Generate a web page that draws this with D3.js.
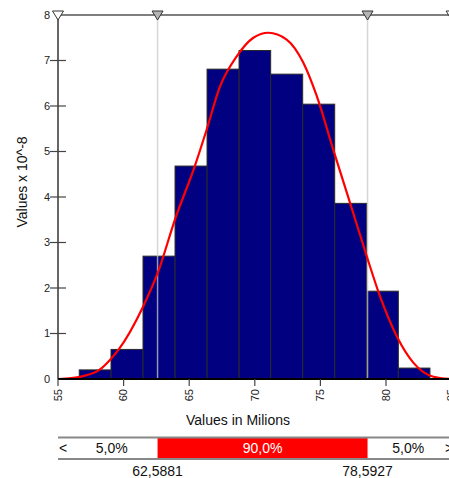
<!DOCTYPE html>
<html>
<head>
<meta charset="utf-8">
<script src="https://cdn.jsdelivr.net/npm/d3@7"></script>
<style>
  html, body { margin: 0; padding: 0; background: #fff; }
  svg { display: block; }
</style>
</head>
<body>
<div id="chart"></div>
<script>
// histogram bins (values in millions) and heights (x 10^-8)
const binEdges = [56.62, 59.04, 61.48, 63.92, 66.36, 68.80, 71.21, 73.65, 76.09, 78.53, 80.94, 83.35];
const binValues = [0.20, 0.65, 2.70, 4.68, 6.81, 7.22, 6.70, 6.04, 3.86, 1.93, 0.24];

// fitted density curve
const curveX = [55.0, 56.0, 57.0, 58.15, 58.96, 59.63, 61.50, 62.60, 63.92, 65.44, 66.33, 67.35, 68.62, 69.89, 71.03,
                72.43, 73.70, 74.72, 75.98, 77.26, 78.53, 79.54, 80.82, 82.08, 83.61, 85.0];
const curveY = [0.0, 0.02, 0.07, 0.20, 0.42, 0.65, 1.60, 2.33, 3.51, 4.69, 5.48, 6.43, 7.09, 7.50, 7.61,
                7.46, 6.95, 6.22, 5.04, 3.87, 2.70, 1.82, 0.94, 0.36, 0.05, 0.0];

const xTicks = [55, 60, 65, 70, 75, 80, 85];
const yTicks = [0, 1, 2, 3, 4, 5, 6, 7, 8];

// 90% interval markers
const lowerValue = 62.5881;
const upperValue = 78.5927;
const lowerLabel = "62,5881";
const upperLabel = "78,5927";
const bandLabels = ["5,0%", "90,0%", "5,0%"];

const width = 449, height = 478;
const font = "'Liberation Sans', Arial, sans-serif";

const svg = d3.select("#chart").append("svg")
    .attr("width", width)
    .attr("height", height)
    .attr("font-family", font);

const x = d3.scaleLinear().domain([55, 85]).range([58, 451.6]);
const y = d3.scaleLinear().domain([0, 8]).range([379, 15]);

// bars
const bins = binValues.map((v, i) => ({ x0: binEdges[i], x1: binEdges[i + 1], v: v }));
svg.append("g")
    .selectAll("rect")
    .data(bins)
    .enter().append("rect")
    .attr("x", d => x(d.x0))
    .attr("y", d => y(d.v))
    .attr("width", d => x(d.x1) - x(d.x0))
    .attr("height", d => y(0) - y(d.v))
    .attr("fill", "#000080")
    .attr("stroke", "#2a2a2a")
    .attr("stroke-width", 1);

// marker lines (drawn over the bars)
svg.append("g")
    .selectAll("line")
    .data([lowerValue, upperValue])
    .enter().append("line")
    .attr("x1", d => x(d)).attr("x2", d => x(d))
    .attr("y1", y(8)).attr("y2", y(0))
    .attr("stroke", "#c8c8c8")
    .attr("stroke-opacity", 0.75)
    .attr("stroke-width", 1.5);

// fitted curve
const pts = curveX.map((v, i) => [v, curveY[i]]);
svg.append("path")
    .datum(pts)
    .attr("fill", "none")
    .attr("stroke", "#ff0000")
    .attr("stroke-width", 2.2)
    .attr("d", d3.line()
        .x(d => x(d[0]))
        .y(d => y(d[1]))
        .curve(d3.curveMonotoneX));

// axes frame
svg.append("line")
    .attr("x1", x(55)).attr("x2", width)
    .attr("y1", y(8)).attr("y2", y(8))
    .attr("stroke", "#000").attr("stroke-width", 1.2);
svg.append("line")
    .attr("x1", x(55)).attr("x2", x(55))
    .attr("y1", y(8)).attr("y2", y(0))
    .attr("stroke", "#000").attr("stroke-width", 1.2);
svg.append("line")
    .attr("x1", x(55)).attr("x2", width)
    .attr("y1", y(0)).attr("y2", y(0))
    .attr("stroke", "#000").attr("stroke-width", 2);

// y ticks + labels
const yg = svg.append("g");
yg.selectAll("line")
    .data(yTicks.filter(t => t > 0 && t < 8))
    .enter().append("line")
    .attr("x1", 50).attr("x2", 66)
    .attr("y1", d => y(d)).attr("y2", d => y(d))
    .attr("stroke", "#444").attr("stroke-width", 1.2);
yg.selectAll("text")
    .data(yTicks)
    .enter().append("text")
    .attr("x", 50)
    .attr("y", d => y(d))
    .attr("dy", "0.35em")
    .attr("text-anchor", "end")
    .attr("font-size", "11px")
    .attr("fill", "#222")
    .text(d => d);

// x ticks + rotated labels
const xg = svg.append("g");
xg.selectAll("line")
    .data(xTicks)
    .enter().append("line")
    .attr("x1", d => x(d)).attr("x2", d => x(d))
    .attr("y1", y(0)).attr("y2", y(0) + 7)
    .attr("stroke", "#444").attr("stroke-width", 1.2);
xg.selectAll("text")
    .data(xTicks)
    .enter().append("text")
    .attr("transform", d => `translate(${x(d)},389) rotate(-90)`)
    .attr("dy", "0.35em")
    .attr("text-anchor", "end")
    .attr("font-size", "11px")
    .attr("fill", "#222")
    .text(d => d);

// triangles on the top line
const tri = [
    { v: 55, fill: "#fff" },
    { v: lowerValue, fill: "#b4b4b4" },
    { v: upperValue, fill: "#b4b4b4" },
    { v: 85, fill: "#fff" }
];
svg.append("g")
    .selectAll("path")
    .data(tri)
    .enter().append("path")
    .attr("d", d => {
        const cx = x(d.v);
        return `M${cx - 5.5},11 L${cx + 5.5},11 L${cx},20 Z`;
    })
    .attr("fill", d => d.fill)
    .attr("stroke", "#333")
    .attr("stroke-width", 1);

// axis titles
svg.append("text")
    .attr("transform", "translate(27,182) rotate(-90)")
    .attr("text-anchor", "middle")
    .attr("font-size", "14px")
    .attr("fill", "#111")
    .text("Values x 10^-8");

svg.append("text")
    .attr("x", 238)
    .attr("y", 425)
    .attr("text-anchor", "middle")
    .attr("font-size", "14px")
    .attr("fill", "#111")
    .text("Values in Milions");

// interval band below the chart
const bandTop = 437.5, bandBottom = 459;
svg.append("rect")
    .attr("x", x(lowerValue))
    .attr("y", bandTop)
    .attr("width", x(upperValue) - x(lowerValue))
    .attr("height", bandBottom - bandTop)
    .attr("fill", "#ff0000");
[bandTop, bandBottom].forEach(yy => {
    svg.append("line")
        .attr("x1", x(55)).attr("x2", width)
        .attr("y1", yy).attr("y2", yy)
        .attr("stroke", "#888").attr("stroke-width", 2);
});

const midY = (bandTop + bandBottom) / 2;
const bandCenters = [
    (x(55) + 8 + x(lowerValue)) / 2,
    (x(lowerValue) + x(upperValue)) / 2,
    (x(upperValue) + width) / 2
];
svg.append("g")
    .selectAll("text")
    .data(bandLabels)
    .enter().append("text")
    .attr("x", (d, i) => bandCenters[i])
    .attr("y", midY)
    .attr("dy", "0.36em")
    .attr("text-anchor", "middle")
    .attr("font-size", "14px")
    .attr("fill", (d, i) => i === 1 ? "#fff" : "#111")
    .text(d => d);

svg.append("text")
    .attr("x", x(55) + 1).attr("y", midY).attr("dy", "0.36em")
    .attr("font-size", "14px").attr("fill", "#111")
    .text("<");
svg.append("text")
    .attr("x", 445).attr("y", midY).attr("dy", "0.36em")
    .attr("font-size", "14px").attr("fill", "#111")
    .text(">");

svg.append("g")
    .selectAll("text")
    .data([[lowerValue, lowerLabel], [upperValue, upperLabel]])
    .enter().append("text")
    .attr("x", d => x(d[0]))
    .attr("y", 476)
    .attr("text-anchor", "middle")
    .attr("font-size", "14px")
    .attr("fill", "#111")
    .text(d => d[1]);
</script>
</body>
</html>
